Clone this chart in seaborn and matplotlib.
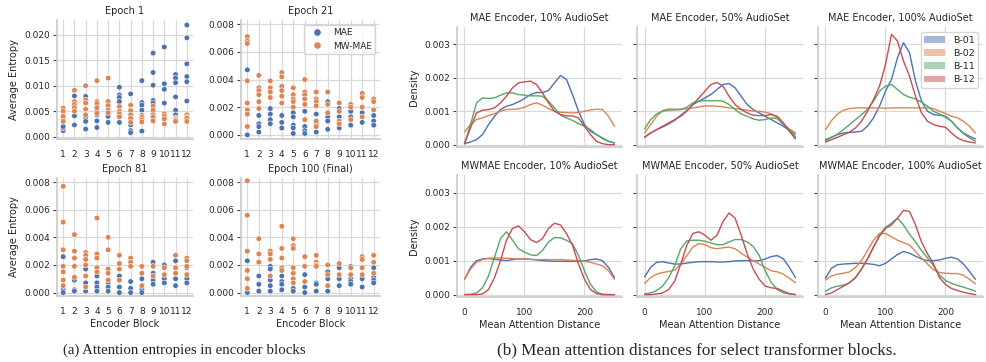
import matplotlib
matplotlib.use("Agg")
import matplotlib.pyplot as plt
from matplotlib.patches import Patch
from matplotlib.ticker import FormatStrFormatter
import pandas as pd
import seaborn as sns

sns.set_theme(style="whitegrid")
plt.rcParams["font.family"] = ["DejaVu Sans"]

# ---------------- (a) attention entropies ----------------
blocks = [1, 2, 3, 4, 5, 6, 7, 8, 9, 10, 11, 12]
models = ["MAE", "MW-MAE"]
epoch_titles = ["Epoch 1", "Epoch 21", "Epoch 81", "Epoch 100 (Final)"]

ep1_mae = [[0.0012, 0.0017, 0.0020, 0.0035], [0.0080, 0.0060, 0.0041, 0.0023],
           [0.0079, 0.0070, 0.0038, 0.0030, 0.0015], [0.0050, 0.0043, 0.0031, 0.0018],
           [0.0066, 0.0056, 0.0040, 0.0028], [0.0097, 0.0082, 0.0077, 0.0069, 0.0047, 0.0028],
           [0.0084, 0.0033, 0.0023, 0.0012, 0.0008], [0.0110, 0.0067, 0.0062, 0.0052, 0.0011],
           [0.0164, 0.0126, 0.0101, 0.0071, 0.0066, 0.0045], [0.0176, 0.0104, 0.0093, 0.0066],
           [0.0122, 0.0115, 0.0106, 0.0078, 0.0052, 0.0043],
           [0.0219, 0.0194, 0.0143, 0.0118, 0.0108, 0.0070]]
ep1_mw = [[0.0056, 0.0050, 0.0040, 0.0030], [0.0091, 0.0069, 0.0063, 0.0057, 0.0050],
          [0.0100, 0.0072, 0.0066, 0.0054, 0.0043], [0.0110, 0.0069, 0.0065, 0.0057, 0.0046],
          [0.0115, 0.0069, 0.0061, 0.0052, 0.0047], [0.0059, 0.0050, 0.0045, 0.0039],
          [0.0062, 0.0051, 0.0043, 0.0036, 0.0028], [0.0042, 0.0038, 0.0033, 0.0029],
          [0.0060, 0.0052, 0.0043, 0.0038, 0.0031], [0.0045, 0.0040, 0.0035, 0.0025],
          [0.0037, 0.0034, 0.0033, 0.0030], [0.0043, 0.0038, 0.0036, 0.0030]]

ep21_mae = [[0.0047, 0.0000], [0.0014, 0.0008, 0.0006, 0.0002], [0.0019, 0.0015, 0.0011, 0.0008],
            [0.0014, 0.0009, 0.0005], [0.0016, 0.0013, 0.0007, 0.0005, 0.0001],
            [0.0017, 0.0006, 0.0003, 0.0001], [0.0015, 0.0008, 0.0002],
            [0.0024, 0.0013, 0.0010, 0.0004], [0.0019, 0.0013, 0.0005], [0.0017, 0.0013, 0.0007],
            [0.0016, 0.0009], [0.0014, 0.0010, 0.0007]]
ep21_mw = [[0.0071, 0.0068, 0.0066, 0.0039, 0.0023, 0.0018, 0.0015, 0.0006],
           [0.0043, 0.0034, 0.0032, 0.0029, 0.0024, 0.0019], [0.0039, 0.0034, 0.0031, 0.0027],
           [0.0045, 0.0042, 0.0035, 0.0032, 0.0028, 0.0023],
           [0.0034, 0.0029, 0.0026, 0.0024, 0.0020],
           [0.0040, 0.0031, 0.0029, 0.0026, 0.0022, 0.0011],
           [0.0031, 0.0026, 0.0024, 0.0021, 0.0010, 0.0006], [0.0031, 0.0022, 0.0016],
           [0.0023, 0.0017, 0.0010, 0.0008], [0.0022, 0.0020, 0.0011],
           [0.0030, 0.0027, 0.0020, 0.0013], [0.0026, 0.0024, 0.0018]]

ep81_mae = [[0.0026, 0.0002, 0.0000], [0.0009, 0.0002, 0.0001], [0.0017, 0.0007, 0.0001],
            [0.0012, 0.0007, 0.0004, 0.0001], [0.0007, 0.0004, 0.0001], [0.0012, 0.0004, 0.0000],
            [0.0008, 0.0003, 0.0000], [0.0010, 0.0002, 0.0000], [0.0022, 0.0014, 0.0009, 0.0006],
            [0.0020, 0.0010, 0.0007], [0.0023, 0.0010, 0.0005], [0.0018, 0.0010, 0.0007]]
ep81_mw = [[0.0077, 0.0051, 0.0031, 0.0019, 0.0015, 0.0009, 0.0005],
           [0.0042, 0.0030, 0.0025, 0.0019, 0.0011],
           [0.0029, 0.0027, 0.0024, 0.0020, 0.0012, 0.0004],
           [0.0054, 0.0028, 0.0025, 0.0018, 0.0015], [0.0040, 0.0031, 0.0017, 0.0014, 0.0009],
           [0.0027, 0.0021, 0.0017, 0.0009], [0.0025, 0.0022, 0.0019], [0.0019, 0.0014, 0.0005],
           [0.0019, 0.0012], [0.0018, 0.0013], [0.0027, 0.0018, 0.0014],
           [0.0025, 0.0023, 0.0019, 0.0013]]

ep100_mae = [[0.0023, 0.0000], [0.0012, 0.0006, 0.0001], [0.0019, 0.0017, 0.0009, 0.0005, 0.0001],
             [0.0012, 0.0008, 0.0006, 0.0002], [0.0003, 0.0001], [0.0013, 0.0004, 0.0000],
             [0.0007, 0.0006, 0.0001], [0.0015, 0.0010, 0.0001], [0.0018, 0.0010, 0.0005],
             [0.0019, 0.0010, 0.0008, 0.0006], [0.0010, 0.0004], [0.0018, 0.0011, 0.0009, 0.0007]]
ep100_mw = [[0.0081, 0.0056, 0.0030, 0.0016, 0.0010, 0.0003], [0.0039, 0.0028, 0.0022],
            [0.0030, 0.0028, 0.0024, 0.0012], [0.0048, 0.0032, 0.0025, 0.0018, 0.0016],
            [0.0039, 0.0034, 0.0032, 0.0018, 0.0014, 0.0010, 0.0007], [0.0026, 0.0019, 0.0008],
            [0.0027, 0.0022, 0.0020, 0.0019], [0.0020, 0.0013, 0.0005], [0.0021, 0.0013],
            [0.0018, 0.0013], [0.0026, 0.0024, 0.0018, 0.0013], [0.0027, 0.0022, 0.0014]]

entropy_series = [(ep1_mae, ep1_mw), (ep21_mae, ep21_mw), (ep81_mae, ep81_mw), (ep100_mae, ep100_mw)]
entropy_ticks = [[0.0, 0.005, 0.010, 0.015, 0.020], [0.0, 0.002, 0.004, 0.006, 0.008],
                 [0.0, 0.002, 0.004, 0.006, 0.008], [0.0, 0.002, 0.004, 0.006, 0.008]]
entropy_ylim = [(-0.00045, 0.0229), (-0.0003, 0.0083), (-0.00025, 0.0083), (-0.00025, 0.0083)]

# ---------------- (b) mean attention distances (density x 1e-3) ----------------
dist_x = [0, 10, 20, 30, 40, 50, 60, 70, 80, 90, 100, 110, 120, 130, 140, 150, 160, 170,
          180, 190, 200, 210, 220, 230, 240, 250]
block_names = ["B-01", "B-02", "B-11", "B-12"]
dist_titles = ["MAE Encoder, 10% AudioSet", "MAE Encoder, 50% AudioSet", "MAE Encoder, 100% AudioSet",
               "MWMAE Encoder, 10% AudioSet", "MWMAE Encoder, 50% AudioSet", "MWMAE Encoder, 100% AudioSet"]

mae_10 = {
    "B-01": [0.03, 0.08, 0.15, 0.3, 0.6, 0.85, 1.05, 1.15, 1.2, 1.28, 1.38, 1.5, 1.56, 1.56, 1.62, 1.85, 2.07, 1.95, 1.5, 1.0, 0.6, 0.4, 0.3, 0.2, 0.1, 0.05],
    "B-02": [0.38, 0.6, 0.75, 0.8, 0.87, 0.93, 1.0, 1.05, 1.06, 1.07, 1.12, 1.2, 1.25, 1.18, 1.08, 1.0, 0.97, 0.96, 0.95, 0.96, 1.0, 1.04, 1.06, 1.05, 0.85, 0.55],
    "B-11": [0.03, 0.6, 1.25, 1.4, 1.38, 1.4, 1.48, 1.55, 1.55, 1.5, 1.48, 1.46, 1.46, 1.45, 1.3, 1.1, 0.88, 0.8, 0.72, 0.63, 0.55, 0.45, 0.3, 0.18, 0.1, 0.05],
    "B-12": [0.03, 0.5, 0.95, 1.03, 1.05, 1.1, 1.25, 1.45, 1.7, 1.85, 1.88, 1.9, 1.8, 1.55, 1.25, 1.0, 0.9, 0.86, 0.86, 0.8, 0.55, 0.3, 0.1, 0.03, 0.0, 0.0],
}
mae_50 = {
    "B-01": [0.22, 0.35, 0.45, 0.53, 0.62, 0.73, 0.88, 1.02, 1.2, 1.3, 1.4, 1.5, 1.65, 1.8, 1.83, 1.7, 1.45, 1.2, 1.05, 0.95, 0.85, 0.75, 0.65, 0.55, 0.42, 0.22],
    "B-02": [0.35, 0.6, 0.85, 1.02, 1.07, 1.06, 1.06, 1.07, 1.1, 1.13, 1.16, 1.16, 1.15, 1.13, 1.1, 1.08, 1.06, 1.03, 1.0, 1.0, 0.97, 0.92, 0.8, 0.62, 0.47, 0.35],
    "B-11": [0.47, 0.75, 0.92, 1.0, 1.03, 1.04, 1.05, 1.12, 1.25, 1.3, 1.32, 1.31, 1.32, 1.3, 1.2, 1.05, 0.92, 0.85, 0.77, 0.73, 0.75, 0.8, 0.78, 0.6, 0.45, 0.3],
    "B-12": [0.22, 0.35, 0.45, 0.55, 0.65, 0.75, 0.85, 1.0, 1.2, 1.4, 1.6, 1.8, 1.86, 1.75, 1.45, 1.2, 1.05, 0.95, 0.88, 0.87, 0.87, 0.9, 0.85, 0.65, 0.4, 0.17],
}
mae_100 = {
    "B-01": [0.15, 0.22, 0.3, 0.35, 0.37, 0.38, 0.4, 0.55, 0.8, 1.15, 1.6, 1.95, 2.6, 3.05, 2.75, 1.9, 1.3, 1.0, 0.9, 0.88, 0.85, 0.7, 0.5, 0.35, 0.25, 0.17],
    "B-02": [0.45, 0.72, 0.92, 1.03, 1.08, 1.1, 1.1, 1.1, 1.1, 1.1, 1.09, 1.1, 1.1, 1.1, 1.1, 1.1, 1.1, 1.1, 1.08, 1.0, 0.93, 0.85, 0.8, 0.7, 0.55, 0.35],
    "B-11": [0.12, 0.22, 0.32, 0.45, 0.6, 0.75, 0.9, 1.05, 1.3, 1.6, 1.75, 1.8, 1.65, 1.5, 1.42, 1.37, 1.27, 1.15, 1.0, 0.92, 0.82, 0.7, 0.5, 0.33, 0.2, 0.1],
    "B-12": [0.08, 0.15, 0.22, 0.3, 0.37, 0.5, 0.7, 1.0, 1.35, 1.75, 2.4, 3.3, 3.1, 2.5, 2.05, 1.45, 0.95, 0.7, 0.6, 0.55, 0.52, 0.35, 0.2, 0.12, 0.08, 0.05],
}
mwmae_10 = {
    "B-01": [0.45, 0.8, 1.0, 1.05, 1.06, 1.04, 1.02, 1.0, 1.03, 1.05, 1.05, 1.04, 1.02, 1.0, 0.99, 0.98, 0.98, 0.98, 0.98, 0.98, 0.99, 1.03, 1.05, 1.0, 0.8, 0.5],
    "B-02": [0.45, 0.75, 0.95, 1.03, 1.07, 1.08, 1.08, 1.07, 1.06, 1.05, 1.04, 1.04, 1.03, 1.03, 1.03, 1.03, 1.03, 1.02, 1.01, 1.0, 0.98, 0.95, 0.9, 0.85, 0.7, 0.45],
    "B-11": [0.0, 0.01, 0.05, 0.2, 0.55, 1.1, 1.65, 1.85, 1.6, 1.35, 1.25, 1.17, 1.15, 1.3, 1.55, 1.68, 1.67, 1.6, 1.5, 1.15, 0.7, 0.3, 0.08, 0.01, 0.0, 0.0],
    "B-12": [0.0, 0.0, 0.0, 0.02, 0.15, 0.5, 1.0, 1.6, 1.95, 2.02, 1.85, 1.62, 1.53, 1.65, 1.95, 2.1, 2.05, 1.8, 1.45, 0.9, 0.45, 0.15, 0.03, 0.0, 0.0, 0.0],
}
mwmae_50 = {
    "B-01": [0.52, 0.8, 0.95, 0.97, 0.93, 0.9, 0.9, 0.93, 0.95, 0.97, 0.97, 0.97, 0.96, 0.96, 0.97, 0.99, 1.0, 1.0, 0.99, 1.0, 1.05, 1.12, 1.15, 1.05, 0.8, 0.5],
    "B-02": [0.33, 0.5, 0.6, 0.65, 0.68, 0.72, 0.9, 1.15, 1.4, 1.5, 1.47, 1.38, 1.35, 1.38, 1.4, 1.35, 1.22, 1.1, 1.0, 0.9, 0.8, 0.7, 0.67, 0.6, 0.48, 0.35],
    "B-11": [0.02, 0.05, 0.12, 0.25, 0.5, 0.85, 1.35, 1.58, 1.6, 1.6, 1.57, 1.52, 1.47, 1.47, 1.55, 1.62, 1.62, 1.55, 1.42, 1.15, 0.7, 0.35, 0.15, 0.05, 0.02, 0.0],
    "B-12": [0.0, 0.0, 0.02, 0.05, 0.15, 0.4, 0.9, 1.45, 1.8, 1.85, 1.75, 1.6, 1.75, 2.15, 2.4, 2.25, 1.75, 1.2, 0.75, 0.45, 0.25, 0.2, 0.18, 0.1, 0.03, 0.0],
}
mwmae_100 = {
    "B-01": [0.48, 0.78, 0.88, 0.9, 0.91, 0.92, 0.92, 0.91, 0.89, 0.85, 0.92, 1.05, 1.18, 1.27, 1.22, 1.13, 1.05, 1.0, 1.0, 1.02, 1.07, 1.1, 1.05, 0.9, 0.68, 0.45],
    "B-02": [0.43, 0.55, 0.6, 0.63, 0.67, 0.8, 1.0, 1.3, 1.6, 1.8, 1.8, 1.7, 1.6, 1.53, 1.46, 1.27, 1.08, 0.9, 0.73, 0.65, 0.63, 0.62, 0.62, 0.57, 0.45, 0.32],
    "B-11": [0.1, 0.2, 0.25, 0.28, 0.35, 0.5, 0.75, 1.05, 1.4, 1.75, 1.98, 2.1, 2.25, 2.05, 1.78, 1.55, 1.3, 1.08, 0.85, 0.57, 0.42, 0.33, 0.27, 0.22, 0.16, 0.1],
    "B-12": [0.0, 0.05, 0.15, 0.25, 0.35, 0.5, 0.75, 1.05, 1.4, 1.72, 1.95, 2.05, 2.25, 2.48, 2.45, 2.05, 1.55, 1.2, 0.9, 0.5, 0.3, 0.18, 0.12, 0.07, 0.03, 0.0],
}
dist_panels = [mae_10, mae_50, mae_100, mwmae_10, mwmae_50, mwmae_100]

palette = sns.color_palette("deep")
W, H = 987, 362


def rect(x0, x1, top, bot):
    return [x0 / W, 1 - bot / H, (x1 - x0) / W, (bot - top) / H]


def style_ax(ax, tick_size=6.5):
    sns.despine(ax=ax)
    for s in ("left", "bottom"):
        ax.spines[s].set_color(".8")
    ax.tick_params(axis="y", left=True, length=3, width=0.8, color=".25",
                   labelsize=tick_size, pad=2)
    ax.tick_params(axis="x", labelsize=tick_size, pad=2)
    ax.grid(True, color=".85", linewidth=0.9)


fig = plt.figure(figsize=(W / 100, H / 100), dpi=100)

# panel (a)
ent_rects = [rect(57, 193, 20, 139), rect(241, 380, 20, 139),
             rect(57, 193, 178, 296), rect(241, 380, 178, 296)]
for i, (title, (mae, mw)) in enumerate(zip(epoch_titles, entropy_series)):
    rows = []
    for model, series in zip(models, (mae, mw)):
        for b, vals in zip(blocks, series):
            rows += [{"block": b, "entropy": v, "model": model} for v in vals]
    df = pd.DataFrame(rows)
    ax = fig.add_axes(ent_rects[i])
    sns.scatterplot(data=df, x="block", y="entropy", hue="model", hue_order=models,
                    palette=palette[:2], s=16, edgecolor="white", linewidth=0.4,
                    ax=ax, legend=(i == 1))
    ax.set_xticks(blocks)
    ax.set_xlim(0.45, 12.55)
    ax.set_yticks(entropy_ticks[i])
    ax.set_ylim(*entropy_ylim[i])
    ax.yaxis.set_major_formatter(FormatStrFormatter("%.3f"))
    ax.set_title(title, fontsize=7, pad=4)
    ax.set_ylabel("Average Entropy" if i % 2 == 0 else "", fontsize=7)
    ax.set_xlabel("Encoder Block" if i >= 2 else "", fontsize=7, labelpad=2)
    style_ax(ax)
    if i == 1:
        sns.move_legend(ax, "upper right", title=None, fontsize=6.5, markerscale=1.3,
                        frameon=True, borderpad=0.4, handletextpad=0.8)

# panel (b)
dist_rects = [rect(457, 622, 27, 147), rect(637, 803, 27, 147), rect(818, 983, 27, 147),
              rect(457, 622, 175, 297), rect(637, 803, 175, 297), rect(818, 983, 175, 297)]
for i, (title, panel) in enumerate(zip(dist_titles, dist_panels)):
    rows = []
    for name in block_names:
        rows += [{"distance": x, "density": d * 1e-3, "block": name}
                 for x, d in zip(dist_x, panel[name])]
    df = pd.DataFrame(rows)
    ax = fig.add_axes(dist_rects[i])
    sns.lineplot(data=df, x="distance", y="density", hue="block", hue_order=block_names,
                 palette=palette[:4], linewidth=1.0, ax=ax, legend=False)
    ax.set_xlim(-12.5, 262.5)
    ax.set_ylim(-0.00007, 0.00352)
    ax.set_xticks([0, 100, 200])
    ax.set_yticks([0.0, 0.001, 0.002, 0.003])
    ax.yaxis.set_major_formatter(FormatStrFormatter("%.3f"))
    ax.set_title(title, fontsize=7, pad=4)
    style_ax(ax)
    if i % 3 == 0:
        ax.set_ylabel("Density", fontsize=7)
    else:
        ax.set_ylabel("")
        ax.tick_params(axis="y", labelleft=False)
    if i >= 3:
        ax.set_xlabel("Mean Attention Distance", fontsize=7, labelpad=2)
    else:
        ax.set_xlabel("")
        ax.tick_params(axis="x", labelbottom=False)
    if i == 2:
        handles = [Patch(facecolor=c, alpha=0.5, edgecolor="none") for c in palette[:4]]
        ax.legend(handles, block_names, loc="upper right", fontsize=6.8, frameon=True,
                  borderpad=0.4, handlelength=2.2, labelspacing=0.45)

fig.text(63 / W, 1 - 350 / H, "(a) Attention entropies in encoder blocks",
         family="Liberation Serif", fontsize=10.7, va="center")
fig.text(497 / W, 1 - 350 / H, "(b) Mean attention distances for select transformer blocks.",
         family="Liberation Serif", fontsize=12.3, va="center")

fig.savefig("out.png", dpi=100)
